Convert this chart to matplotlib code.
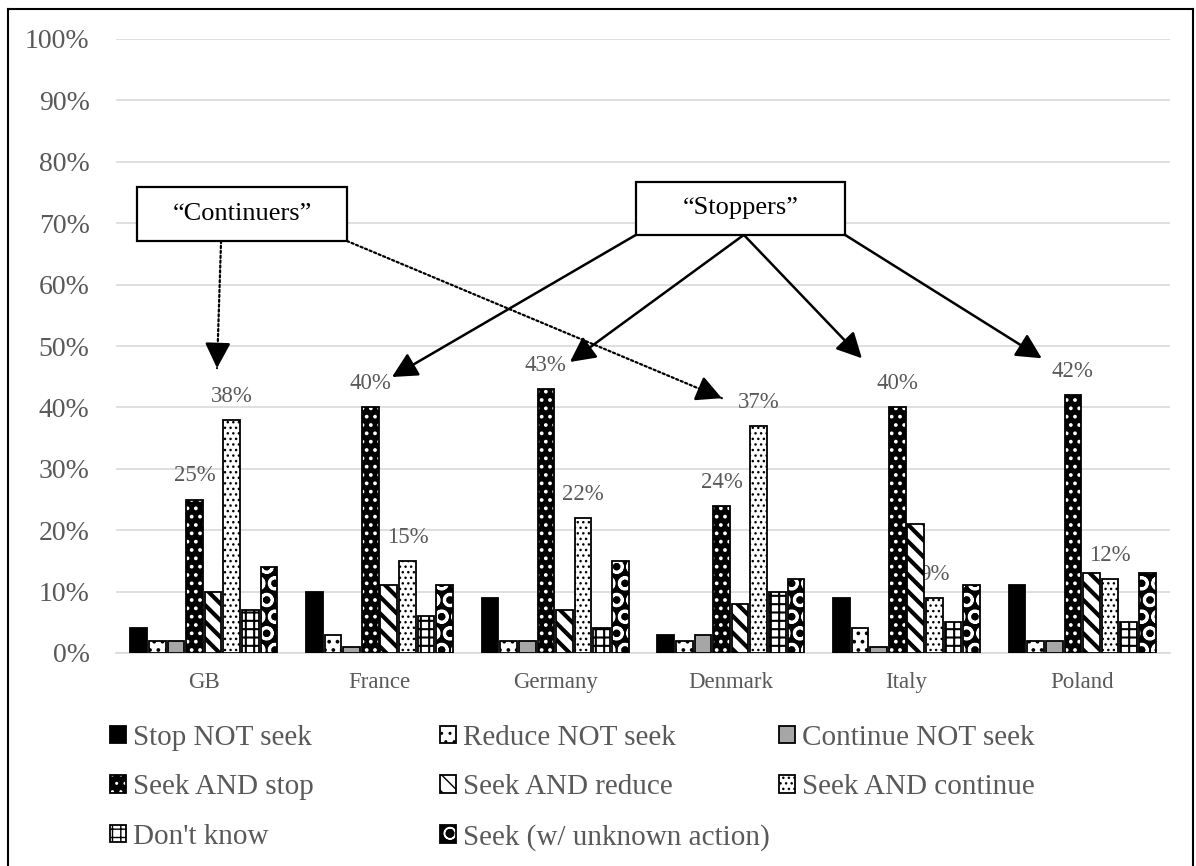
import numpy as np
import matplotlib.pyplot as plt
from matplotlib.patches import Patch, Rectangle
from matplotlib.lines import Line2D
from matplotlib.ticker import PercentFormatter

countries = ['GB', 'France', 'Germany', 'Denmark', 'Italy', 'Poland']
series = ['Stop NOT seek', 'Reduce NOT seek', 'Continue NOT seek',
          'Seek AND stop', 'Seek AND reduce', 'Seek AND continue',
          "Don't know", 'Seek (w/ unknown action)']

# percentages per country
stop_not_seek = [4, 10, 9, 3, 9, 11]
reduce_not_seek = [2, 3, 2, 2, 4, 2]
continue_not_seek = [2, 1, 2, 3, 1, 2]
seek_and_stop = [25, 40, 43, 24, 40, 42]
seek_and_reduce = [10, 11, 7, 8, 21, 13]
seek_and_continue = [38, 15, 22, 37, 9, 12]
dont_know = [7, 6, 4, 10, 5, 5]
seek_unknown = [14, 11, 15, 12, 11, 13]

values = [stop_not_seek, reduce_not_seek, continue_not_seek, seek_and_stop,
          seek_and_reduce, seek_and_continue, dont_know, seek_unknown]
labelled = [3, 5]  # series that carry value labels

# face colour, hatch, hatch colour, hatch line width
styles = [
    ('black', None, 'black', 1.0),
    ('white', '..', 'black', 1.5),
    ('#a6a6a6', None, 'black', 1.0),
    ('black', '..', 'white', 1.5),
    ('white', '\\\\', 'black', 3.0),
    ('white', '...', 'black', 1.0),
    ('white', '++', 'black', 1.5),
    ('black', 'O', 'white', 2.0),
]

plt.rcParams['font.family'] = ['Liberation Serif', 'DejaVu Serif']
grey_text = '#595959'

fig = plt.figure(figsize=(11.96, 8.66), dpi=100)
ax = fig.add_axes([116 / 1196, 1 - 653 / 866, 1054 / 1196, 614 / 866])

x = np.arange(len(countries))
pitch = 0.106
width = 0.095


def set_hatch_lw(patch, lw):
    if hasattr(patch, 'set_hatch_linewidth'):
        patch.set_hatch_linewidth(lw)


legend_handles = []
for i, (vals, (face, hatch, hcol, hlw)) in enumerate(zip(values, styles)):
    pos = x + (i - 3.5) * pitch
    h = np.array(vals) / 100
    with plt.rc_context({'hatch.linewidth': hlw}):
        fill = ax.bar(pos, h, width, color=face, edgecolor=hcol, hatch=hatch,
                      linewidth=0, zorder=3)
        for p in fill:
            set_hatch_lw(p, hlw)
        ax.bar(pos, h, width, fill=False, edgecolor='black', linewidth=1.3,
               zorder=3.1)
        key_fill = Patch(facecolor=face, edgecolor=hcol, hatch=hatch, linewidth=0)
        set_hatch_lw(key_fill, hlw)
    key_edge = Patch(fill=False, edgecolor='black', linewidth=1.3)
    legend_handles.append((key_fill, key_edge))
    if i in labelled:
        for px, v in zip(pos, vals):
            ax.annotate(f'{v}%', (px, v / 100), xytext=(0, 17),
                        textcoords='offset points', ha='center', va='center',
                        fontsize=16.5, color=grey_text, zorder=2)

ax.set_xlim(-0.5, len(countries) - 0.5)
ax.set_ylim(0, 1)
ax.set_yticks(np.arange(0, 1.01, 0.1))
ax.yaxis.set_major_formatter(PercentFormatter(1.0, decimals=0))
ax.set_xticks(x)
ax.set_xticklabels(countries)
ax.tick_params(axis='y', length=0, pad=19, labelsize=20, labelcolor=grey_text)
ax.tick_params(axis='x', length=0, pad=14, labelsize=16.5, labelcolor=grey_text)
ax.grid(axis='y', color='#d9d9d9', linewidth=1.2, zorder=0)
ax.set_axisbelow(True)
for side in ['top', 'right', 'left']:
    ax.spines[side].set_visible(False)
ax.spines['bottom'].set_color('#d9d9d9')
ax.spines['bottom'].set_linewidth(1.2)

# call-out boxes
box_style = dict(facecolor='white', edgecolor='black', linewidth=1.6, zorder=6)
ax.add_patch(Rectangle((-0.38, 0.671), 1.195, 0.088, **box_style))
ax.text(-0.38 + 1.195 / 2, 0.671 + 0.044, '\u201cContinuers\u201d', ha='center',
        va='center', fontsize=19, zorder=7)
ax.add_patch(Rectangle((2.46, 0.681), 1.19, 0.086, **box_style))
ax.text(2.46 + 1.19 / 2, 0.681 + 0.043, '\u201cStoppers\u201d', ha='center',
        va='center', fontsize=19, zorder=7)

head = '-|>,head_length=0.55,head_width=0.28'
solid = dict(arrowstyle=head, color='black', linewidth=1.8,
             mutation_scale=28, shrinkA=0, shrinkB=0)

continuer_arrows = [((0.098, 0.671), (0.075, 0.464)),
                    ((0.815, 0.671), (2.949, 0.415))]
stopper_arrows = [((2.46, 0.681), (1.071, 0.4495)),
                  ((3.074, 0.681), (2.084, 0.474)),
                  ((3.074, 0.681), (3.746, 0.480)),
                  ((3.65, 0.681), (4.770, 0.480))]

# dotted shafts with a solid head: the head sits on a short solid stub
for start, end in continuer_arrows:
    ax.annotate('', xy=end, xytext=start, zorder=5,
                arrowprops=dict(arrowstyle='-', color='black', linewidth=1.6,
                                linestyle=(0, (1, 1.2)), shrinkA=0, shrinkB=0))
    p0 = ax.transData.transform(start)
    p1 = ax.transData.transform(end)
    back = p1 - (p1 - p0) / np.hypot(*(p1 - p0)) * 18
    ax.annotate('', xy=end, xytext=ax.transData.inverted().transform(back),
                arrowprops=solid, zorder=5)
for start, end in stopper_arrows:
    ax.annotate('', xy=end, xytext=start, arrowprops=solid, zorder=5)

# legend: three equal-width columns laid out row by row
col_x = [110, 440, 779]
for c, cx in enumerate(col_x):
    idx = list(range(c, len(series), 3))
    fig.legend([legend_handles[k] for k in idx], [series[k] for k in idx],
               loc='upper left', bbox_to_anchor=(cx / 1196, 1 - 725 / 866),
               frameon=False, fontsize=21, handlelength=0.55, handleheight=0.55,
               handletextpad=0.25, labelspacing=0.8, borderpad=0,
               borderaxespad=0, labelcolor=grey_text)

# outer chart border
for xs, ys in [([8, 8], [0, 857]), ([8, 1193], [857, 857]), ([1193, 1193], [857, 0])]:
    fig.add_artist(Line2D(np.array(xs) / 1196, np.array(ys) / 866,
                          color='black', linewidth=1.5))

fig.savefig('out.png', dpi=100)
